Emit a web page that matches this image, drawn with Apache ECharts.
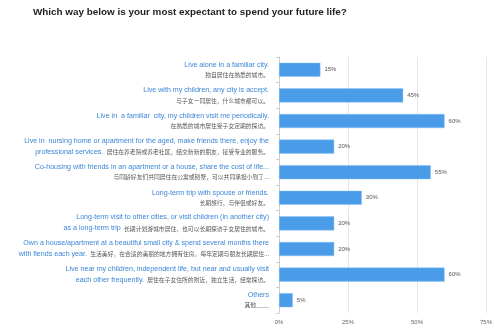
<!DOCTYPE html>
<html><head><meta charset="utf-8">
<script src="https://cdn.jsdelivr.net/npm/echarts@6/dist/echarts.min.js"></script>
<style>html,body{margin:0;padding:0;background:#fff}#c{width:495px;height:334px}</style>
</head><body><div id="c"></div>
<script>
var titleText = 'Which way below is your most expectant to spend your future life?';
var enLabels = [
  'Live alone in a familiar city.',
  'Live with my children, any city is accept.',
  'Live in  a familiar  city, my children visit me periodically.',
  'Live in  nursing home or apartment for the aged, make friends there, enjoy the\nprofessional services.',
  'Co-housing with friends in an apartment or a house, share the cost of life...',
  'Long-term trip with spouse or friends.',
  'Long-term visit to other cities, or visit children (in another city)\nas a long-term trip',
  'Own a house/apartment at a beautiful small city & spend several months there\nwith fiends each year.',
  'Live near my children, independent life, but near and usually visit\neach other frequently.',
  'Others'
];
var zhLabels = [
  '独自居住在熟悉的城市。',
  '与子女一同居住，什么城市都可以。',
  '在熟悉的城市居住受子女定期的探访。',
  '居住在养老院或养老社区，结交新新的朋友，接受专业的服务。',
  '与同龄好友们共同居住在公寓或别墅，可以共同承担小到了...',
  '长期旅行，与伴侣或好友。',
  '长期计划游城市居住，也可以长期探访子女居住的城市。',
  '生活美好，在合适的美丽的地方拥有住房，每年定期与朋友长期居住...',
  '居住在子女住所的附近，独立生活，经常探访。',
  '其他____'
];
var values = [15, 45, 60, 20, 55, 30, 20, 20, 60, 5];
var xTicks = [0, 25, 50, 75];

var cats = enLabels.map(function (e, i) { return String(i); });
function buildLabel(i) {
  var en = enLabels[i].split('\n');
  var zh = zhLabels[i];
  if (en.length > 1) {
    return '{en|' + en[0] + '}\n{en|' + en[1] + '} {zh|' + zh + '}';
  }
  return '{en|' + en[0] + '}\n{zh|' + zh + '}';
}
var chart = echarts.init(document.getElementById('c'));
chart.setOption({
  animation: false,
  title: {
    text: titleText, left: 33, top: 7, padding: 0,
    textStyle: { fontSize: 9.9, fontWeight: 'bold', color: '#222', fontFamily: 'Liberation Sans, Arial, sans-serif' }
  },
  grid: { left: 279, right: 6, top: 57, bottom: 21, containLabel: false },
  xAxis: {
    type: 'value', min: xTicks[0], max: xTicks[xTicks.length - 1], interval: 25,
    axisLine: { show: false }, axisTick: { show: false },
    splitLine: { lineStyle: { color: '#e6e6e6', width: 1 } },
    axisLabel: { formatter: '{value}%', fontSize: 6, color: '#666', margin: 6, fontFamily: 'Liberation Sans, Arial, sans-serif' }
  },
  yAxis: {
    type: 'category', data: cats, inverse: true,
    axisLine: { lineStyle: { color: '#ccc' } },
    axisTick: { show: true, length: 3, lineStyle: { color: '#ccc' } },
    axisLabel: {
      margin: 10, align: 'right',
      formatter: function (v) { return buildLabel(+v); },
      rich: {
        en: { fontSize: 7.1, color: '#3b86d6', lineHeight: 10, fontFamily: 'Liberation Sans, Arial, sans-serif' },
        zh: { fontSize: 5.8, color: '#555', lineHeight: 10, fontFamily: 'Noto Sans CJK SC, sans-serif' }
      }
    }
  },
  series: [{
    type: 'bar', data: values, barWidth: '55%',
    itemStyle: { color: '#4b9ce8', borderColor: '#8cc0f0', borderWidth: 0.5 },
    label: { show: true, position: 'right', formatter: '{c}%', fontSize: 6, color: '#555', distance: 4, fontFamily: 'Liberation Sans, Arial, sans-serif' }
  }]
});
</script></body></html>
